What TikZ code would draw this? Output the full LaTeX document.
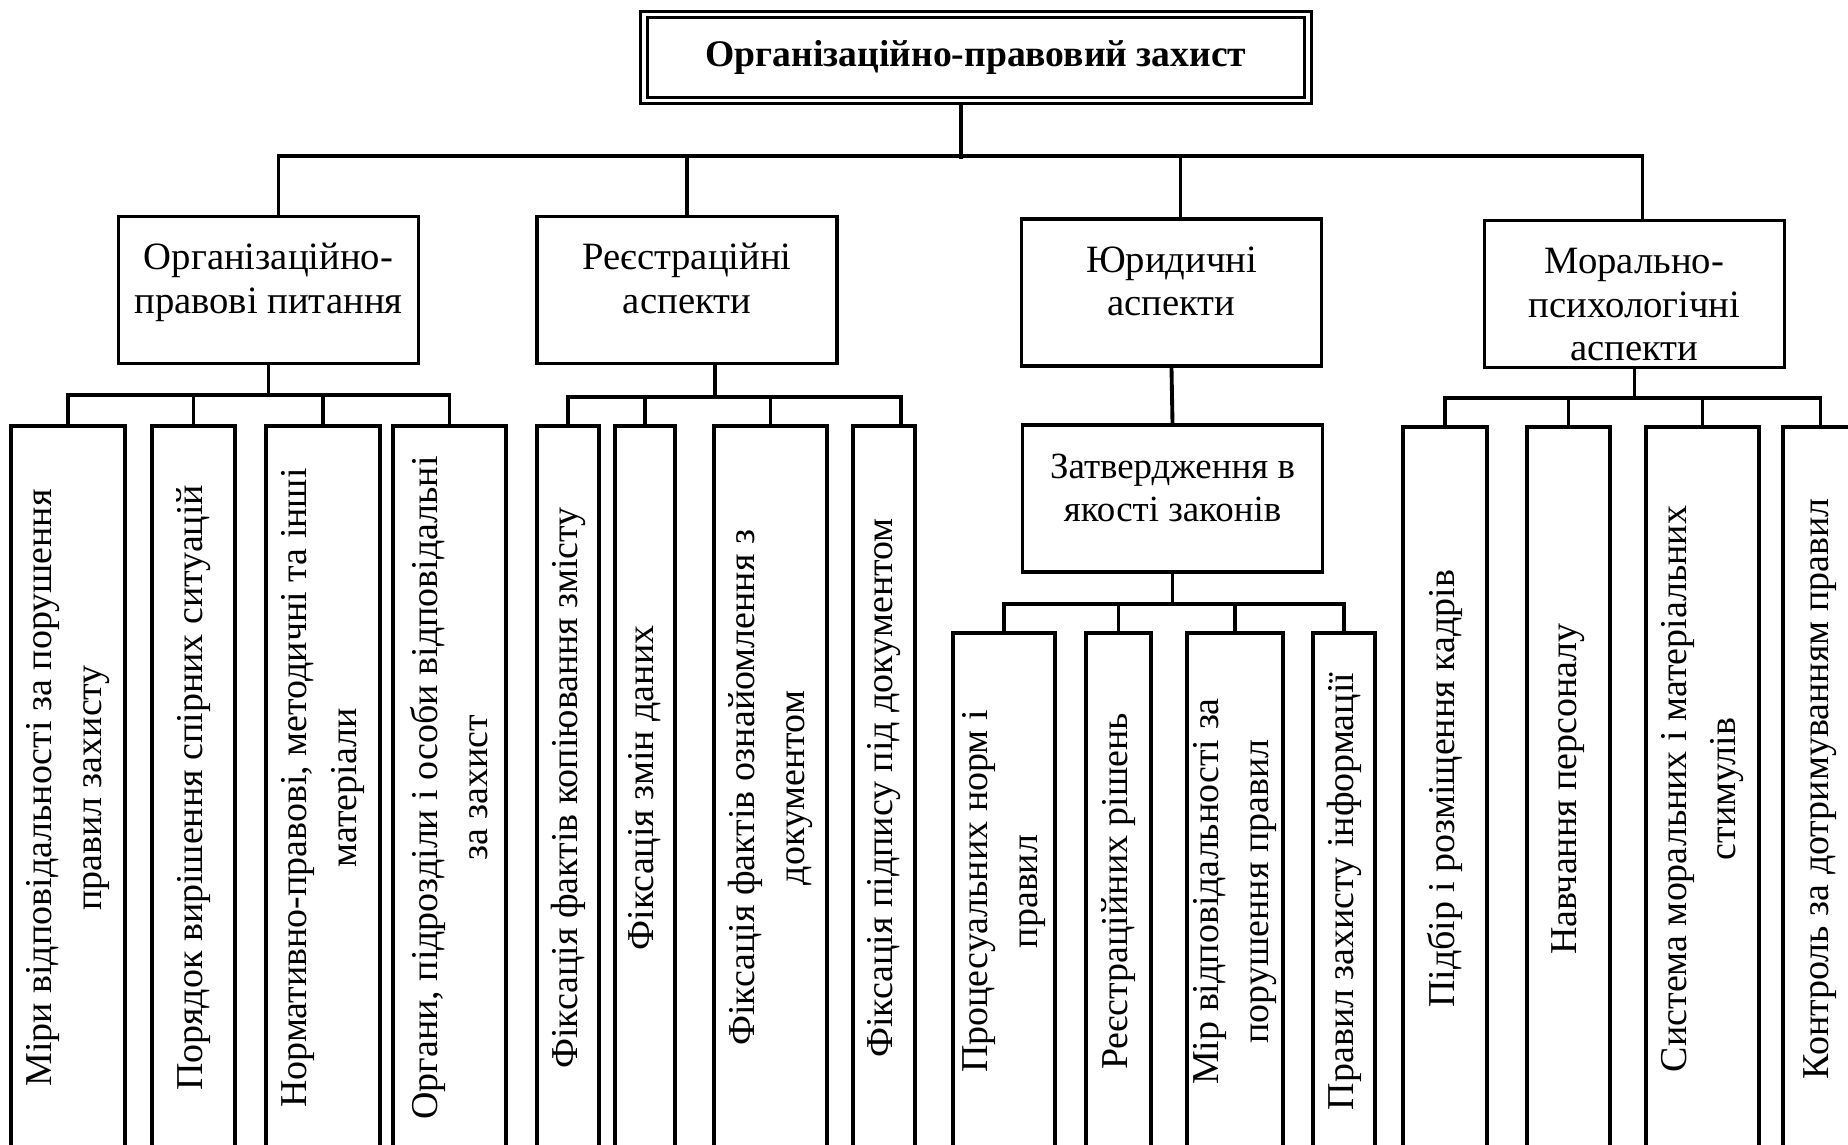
\documentclass[tikz,border=0pt]{standalone}
\usepackage{fontspec}
\setmainfont{Liberation Serif}
\tikzset{
    link/.style={line width=1.1pt},
    rootbox/.style={draw, double, line width=0.75pt, double distance=1.1pt,
                    minimum width=66.4mm, minimum height=8.6mm, inner sep=0pt,
                    font=\bfseries\fontsize{10.7}{12.4}\selectfont},
    topbox/.style={draw, line width=1.1pt, minimum width=30mm, minimum height=14.7mm,
                   text width=28mm, align=flush center, inner sep=0pt,
                   text height=5.3mm, text depth=9.4mm,
                   font=\fontsize{11}{12.4}\selectfont},
    leaf/.style={draw, line width=1.1pt, rotate=90, anchor=east, align=flush center,
                 inner sep=0pt, minimum width=72.4mm,
                 font=\fontsize{10.8}{14.2}\selectfont},
    lowleaf/.style={leaf, minimum width=51.7mm},
}

\begin{document}
\begin{tikzpicture}[x=0.1mm, y=-0.1mm]
\clip (0,0) rectangle (1848,1144);

% ---------------------------------------------------------------------------
% Root and first level
% ---------------------------------------------------------------------------
\node[rootbox] (root) at (976,57.5) {Організаційно-правовий захист};

\node[topbox] (orgA)  at (268.5,290)  {Організаційно-\\правові питання};
\node[topbox] (reg)   at (687,290)    {Реєстраційні\\аспекти};
\node[topbox] (jur)   at (1171.5,292.5) {Юридичні\\аспекти};
\node[topbox] (moral) at (1634.5,294) {Морально-\\психологічні\\аспекти};

\draw[link] ([xshift=1mm]orgA.north) -- ++(0,-59) coordinate (busTop)
    -| ([xshift=0.8mm]moral.north);
\draw[link] ([xshift=-1.5mm]root.south) -- ++(0,57.5);
\draw[link] (reg.north) -- (reg.north |- busTop);
\draw[link] ([xshift=0.9mm]jur.north) -- ++(0,-61);

% ---------------------------------------------------------------------------
% Organisational and legal questions
% ---------------------------------------------------------------------------
\node[leaf, minimum height=11.4mm] (a1) at (68,424)
    {Міри відповідальності за порушення\\правил захисту};
\node[leaf, minimum height=8.3mm] (a2) at (193.5,424)
    {Порядок вирішення спірних ситуацій};
\node[leaf, minimum height=11.4mm] (a3) at (323,424)
    {Нормативно-правові, методичні та інші\\матеріали};
\node[leaf, minimum height=11.3mm] (a4) at (449.5,424)
    {Органи, підрозділи і особи відповідальні\\за захист};

\draw[link] (a1.east) -- ++(0,-29) coordinate (busA) -| (a4.east);
\foreach \n in {a2.east, a3.east, orgA.south}
    \draw[link] (\n) -- (\n |- busA);

% ---------------------------------------------------------------------------
% Registration aspects
% ---------------------------------------------------------------------------
\node[leaf, minimum height=6.2mm] (b1) at (568,424)
    {Фіксація фактів копіювання змісту};
\node[leaf, minimum height=6.0mm] (b2) at (645,424)
    {Фіксація змін даних};
\node[leaf, minimum height=11.3mm] (b3) at (770.5,424)
    {Фіксація фактів ознайомлення з\\документом};
\node[leaf, minimum height=6.2mm] (b4) at (884,424)
    {Фіксація підпису під документом};

\draw[link] (b1.east) -- ++(0,-27) coordinate (busB) -| ([xshift=1.7mm]b4.east);
\foreach \n in {b2.east, b3.east}
    \draw[link] (\n) -- (\n |- busB);
\draw[link] ([xshift=2.8mm]reg.south) -- ++(0,34);

% ---------------------------------------------------------------------------
% Legal aspects
% ---------------------------------------------------------------------------
\node[topbox, font=\fontsize{10.5}{12.4}\selectfont] (law) at (1172.5,498.5)
    {Затвердження в\\якості законів};
\draw[link] (jur.south) -- (law.north);

\node[lowleaf, minimum height=10.2mm] (e1) at (1004,631)
    {Процесуальних норм і\\правил};
\node[lowleaf, minimum height=6.5mm] (e2) at (1118.5,631)
    {Реєстраційних рішень};
\node[lowleaf, minimum height=9.6mm] (e3) at (1235,631)
    {Мір відповідальності за\\порушення правил};
\node[lowleaf, minimum height=6.2mm] (e4) at (1344,631)
    {Правил захисту інформації};

\draw[link] (e1.east) -- ++(0,-27) coordinate (busE) -| (e4.east);
\foreach \n in {e2.east, e3.east, law.south}
    \draw[link] (\n) -- (\n |- busE);

% ---------------------------------------------------------------------------
% Moral and psychological aspects
% ---------------------------------------------------------------------------
\node[leaf, minimum height=8.4mm] (d1) at (1445,425)
    {Підбір і розміщення кадрів};
\node[leaf, minimum height=8.3mm] (d2) at (1568.5,425)
    {Навчання персоналу};
\node[leaf, minimum height=11.3mm] (d3) at (1702.5,425)
    {Система моральних і матеріальних\\стимулів};
\node[leaf, minimum height=7.5mm] (d4) at (1820.5,425)
    {Контроль за дотримуванням правил};

\draw[link] (d1.east) -- ++(0,-27) coordinate (busD) -| (d4.east);
\foreach \n in {d2.east, d3.east, moral.south}
    \draw[link] (\n) -- (\n |- busD);

\end{tikzpicture}
\end{document}
